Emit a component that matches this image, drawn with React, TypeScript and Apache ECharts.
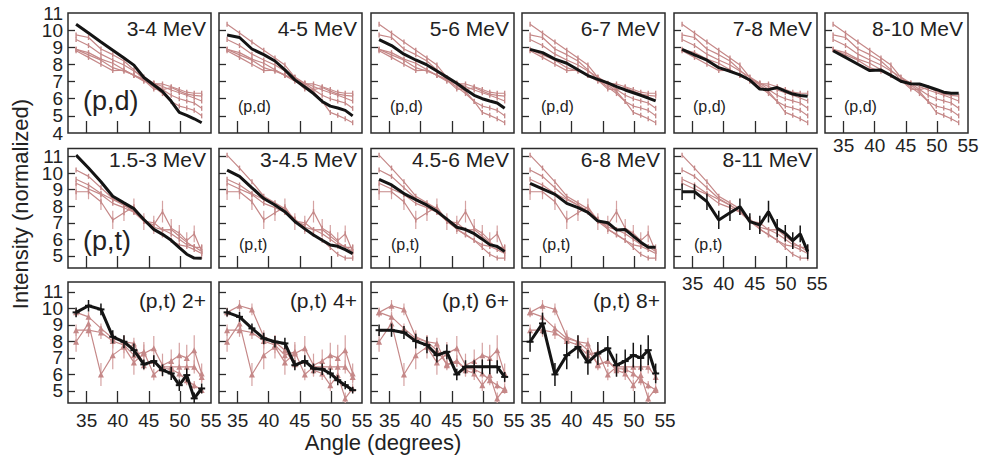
import { useEffect, useRef } from 'react';
import * as echarts from 'echarts';

// Angle (degrees) of each measured point
const angles = [33.3, 35.3, 37.3, 39.2, 41.0, 42.6, 44.2, 45.8, 47.2, 48.6, 49.9, 51.1, 52.3, 53.5];

// Row 1: (p,d)
const row1Titles = ['3-4 MeV', '4-5 MeV', '5-6 MeV', '6-7 MeV', '7-8 MeV', '8-10 MeV'];
const pd34 = [10.34, 9.83, 9.31, 8.83, 8.37, 7.96, 7.24, 6.8, 6.42, 5.85, 5.2, 5.03, 4.83, 4.6];
const pd45 = [9.72, 9.57, 8.9, 8.57, 8.2, 7.68, 7.1, 6.68, 6.3, 5.84, 5.57, 5.46, 5.32, 5.0];
const pd56 = [9.45, 9.1, 8.6, 8.26, 7.97, 7.62, 7.26, 6.9, 6.54, 6.2, 6.0, 5.87, 5.75, 5.44];
const pd67 = [8.88, 8.69, 8.31, 8.07, 7.69, 7.35, 7.13, 6.92, 6.71, 6.51, 6.35, 6.2, 6.04, 5.87];
const pd78 = [8.88, 8.56, 8.25, 7.81, 7.6, 7.39, 7.09, 6.56, 6.53, 6.65, 6.44, 6.27, 6.19, 6.15];
const pd810 = [8.8, 8.41, 8.01, 7.64, 7.67, 7.36, 7.02, 6.87, 6.86, 6.7, 6.54, 6.38, 6.32, 6.32];

// Row 2: (p,t) energy bins
const row2Titles = ['1.5-3 MeV', '3-4.5 MeV', '4.5-6 MeV', '6-8 MeV', '8-11 MeV'];
const pt153 = [11.08, 10.3, 9.47, 8.6, 8.2, 7.85, 7.2, 6.6, 6.3, 5.94, 5.5, 5.1, 4.87, 4.86];
const pt345 = [10.18, 9.8, 9.11, 8.46, 8.07, 7.67, 7.08, 6.63, 6.26, 5.94, 5.66, 5.58, 5.38, 5.14];
const pt456 = [9.62, 9.28, 8.76, 8.4, 8.06, 7.69, 7.22, 6.73, 6.59, 6.34, 6.01, 5.68, 5.57, 5.26];
const pt68 = [9.38, 9.04, 8.71, 8.17, 7.91, 7.63, 7.1, 7.0, 6.57, 6.59, 6.19, 5.83, 5.52, 5.52];
const pt811 = [8.87, 8.87, 8.27, 7.17, 7.6, 7.97, 7.07, 6.87, 7.67, 6.67, 6.37, 5.92, 6.33, 5.26];
const pt811Err = [0.5, 0.45, 0.5, 0.55, 0.5, 0.5, 0.5, 0.55, 0.65, 0.55, 0.5, 0.5, 0.5, 0.45];

// Row 3: (p,t) states
const row3Titles = ['(p,t) 2+', '(p,t) 4+', '(p,t) 6+', '(p,t) 8+'];
const s2 = [9.76, 10.16, 9.94, 8.28, 7.98, 7.47, 6.61, 6.81, 6.26, 6.06, 5.35, 5.96, 4.55, 5.15];
const s2Err = [0.3, 0.35, 0.35, 0.4, 0.4, 0.4, 0.3, 0.35, 0.35, 0.4, 0.35, 0.4, 0.35, 0.3];
const s4 = [9.76, 9.49, 8.79, 8.18, 7.98, 7.88, 6.56, 6.81, 6.36, 6.32, 6.06, 5.65, 5.35, 5.05];
const s4Err = [0.25, 0.3, 0.3, 0.35, 0.35, 0.35, 0.3, 0.35, 0.3, 0.35, 0.3, 0.3, 0.25, 0.2];
const s6 = [8.68, 8.68, 8.54, 8.02, 7.78, 7.17, 7.37, 6.0, 6.46, 6.46, 6.46, 6.46, 6.46, 5.85];
const s6Err = [0.35, 0.4, 0.4, 0.45, 0.5, 0.45, 0.45, 0.35, 0.4, 0.4, 0.45, 0.45, 0.4, 0.3];
const s8 = [7.98, 9.09, 6.0, 7.17, 7.67, 6.73, 7.27, 7.58, 6.56, 6.81, 7.17, 7.0, 7.47, 6.06];
const s8Err = [0.6, 0.65, 0.7, 0.85, 0.7, 0.75, 0.7, 0.75, 0.7, 0.7, 0.75, 0.8, 0.9, 0.6];

// Axis ticks / labels (labels split in two interleaved sets so they all show)
const xTicks = [35, 40, 45, 50];
const xTickLabels = [35, 40, 45, 50, 55];
const yTicksRow1 = [5, 6, 7, 8, 9, 10];
const yLabelsRow1A = [4, 6, 8, 10];
const yLabelsRow1B = [5, 7, 9, 11];
const yTicksRow23 = [5, 6, 7, 8, 9, 10, 11];
const yLabelsRow23A = [5, 7, 9, 11];
const yLabelsRow23B = [6, 8, 10];

const FONT = '"Liberation Sans", Arial, Helvetica, sans-serif';
const PINK = '#c58888';
const PINK_BAR = '#d5a2a2';
const BLACK = '#141414';
const TEXT = '#222';

const colLeft = [68, 219, 371, 522, 674, 825];
const colW = 143;
const rows = [
  { top: 13, h: 120, min: 4, max: 11, ticks: yTicksRow1, labA: yLabelsRow1A, labB: yLabelsRow1B, xMargin: 3 },
  { top: 148.5, h: 119.5, min: 4.27, max: 11.48, ticks: yTicksRow23, labA: yLabelsRow23A, labB: yLabelsRow23B, xMargin: 6 },
  { top: 282, h: 121, min: 4.27, max: 11.6, ticks: yTicksRow23, labA: yLabelsRow23A, labB: yLabelsRow23B, xMargin: 8 },
];

type Line = { v: number[]; e?: number[] };

function buildOption() {
  const row1: Line[] = [pd34, pd45, pd56, pd67, pd78, pd810].map((v) => ({ v }));
  const row2: Line[] = [pt153, pt345, pt456, pt68, pt811].map((v, i) => ({ v, e: i === 4 ? pt811Err : undefined }));
  const row3: Line[] = [
    { v: s2, e: s2Err },
    { v: s4, e: s4Err },
    { v: s6, e: s6Err },
    { v: s8, e: s8Err },
  ];
  const rowLines = [row1, row2, row3];
  const rowTitles = [row1Titles, row2Titles, row3Titles];
  const xLabelPanels: Record<string, boolean> = { '0-5': true, '1-4': true, '2-0': true, '2-1': true, '2-2': true, '2-3': true };

  const grid: any[] = [];
  const xAxis: any[] = [];
  const yAxis: any[] = [];
  const extraY: any[] = [];
  const series: any[] = [];
  const graphic: any[] = [];

  const txt = (text: string, x: number, y: number, size: number, align = 'left', rotation = 0) => ({
    type: 'text',
    x,
    y,
    rotation,
    z: 100,
    style: { text, fontSize: size, fontFamily: FONT, fill: TEXT, align, verticalAlign: 'middle' },
  });

  const yLabelStyle = (values: number[] | undefined, show: boolean) => ({
    show,
    customValues: values,
    showMinLabel: true,
    showMaxLabel: true,
    hideOverlap: false,
    fontSize: 19,
    fontFamily: FONT,
    color: TEXT,
    margin: 5,
  });

  let k = 0;
  rowLines.forEach((lines, r) => {
    const R = rows[r];
    lines.forEach((main, c) => {
      const left = colLeft[c];
      grid.push({
        left,
        top: R.top,
        width: colW,
        height: R.h,
        show: true,
        borderColor: '#2b2b2b',
        borderWidth: 1.5,
        backgroundColor: 'transparent',
      });
      const showX = !!xLabelPanels[`${r}-${c}`];
      xAxis.push({
        type: 'value',
        gridIndex: k,
        min: 32,
        max: 55,
        axisLine: { show: false },
        splitLine: { show: false },
        axisTick: {
          show: true,
          inside: true,
          length: 12,
          customValues: xTicks,
          lineStyle: { color: '#2b2b2b', width: 1.3 },
        },
        axisLabel: {
          show: showX,
          customValues: xTickLabels,
          showMinLabel: true,
          showMaxLabel: true,
          hideOverlap: false,
          fontSize: 19,
          fontFamily: FONT,
          color: TEXT,
          margin: R.xMargin,
        },
      });
      yAxis.push({
        type: 'value',
        gridIndex: k,
        position: 'left',
        min: R.min,
        max: R.max,
        axisLine: { show: false },
        splitLine: { show: false },
        axisTick: {
          show: true,
          inside: true,
          length: 7,
          customValues: R.ticks,
          lineStyle: { color: '#2b2b2b', width: 1.3 },
        },
        axisLabel: yLabelStyle(R.labA, c === 0),
      });
      if (c === 0) {
        extraY.push({
          type: 'value',
          gridIndex: k,
          position: 'left',
          offset: 0,
          min: R.min,
          max: R.max,
          axisLine: { show: false },
          splitLine: { show: false },
          axisTick: { show: false },
          axisLabel: yLabelStyle(R.labB, true),
        });
      }

      const addErr = (l: Line, color: string, width: number, z: number) => {
        if (!l.e) return;
        const e = l.e;
        series.push({
          type: 'custom',
          xAxisIndex: k,
          yAxisIndex: k,
          silent: true,
          z,
          clip: true,
          encode: { x: 0, y: [1, 2] },
          data: angles.map((a, i) => [a, l.v[i] - e[i], l.v[i] + e[i]]),
          renderItem: (_p: any, api: any) => {
            const p1 = api.coord([api.value(0), api.value(1)]);
            const p2 = api.coord([api.value(0), api.value(2)]);
            return {
              type: 'line',
              shape: { x1: p1[0], y1: p1[1], x2: p2[0], y2: p2[1] },
              style: { stroke: color, lineWidth: width },
            };
          },
        });
      };

      lines.forEach((o, j) => {
        if (j === c) return;
        addErr(o, PINK_BAR, 1.2, 2);
        series.push({
          type: 'line',
          xAxisIndex: k,
          yAxisIndex: k,
          silent: true,
          z: 3,
          data: angles.map((a, i) => [a, o.v[i]]),
          lineStyle: { color: PINK, width: 1.2 },
          itemStyle: { color: PINK },
          symbol: r === 2 ? 'triangle' : 'rect',
          symbolSize: r === 2 ? 6 : [1.4, 5],
          showSymbol: true,
        });
      });
      addErr(main, BLACK, 1.5, 5);
      series.push({
        type: 'line',
        xAxisIndex: k,
        yAxisIndex: k,
        silent: true,
        z: 6,
        data: angles.map((a, i) => [a, main.v[i]]),
        lineStyle: { color: BLACK, width: 3 },
        itemStyle: { color: BLACK },
        symbol: r === 2 ? 'rect' : 'none',
        symbolSize: [7, 2],
        showSymbol: r === 2,
      });

      // titles
      const titleY = r === 0 ? 28 : r === 1 ? 159 : 300;
      graphic.push(txt(rowTitles[r][c], left + colW - 5, titleY, 21, 'right'));
      // reaction labels
      if (r === 0) {
        if (c === 0) graphic.push(txt('(p,d)', 83, 101, 27));
        else graphic.push(txt('(p,d)', left + 19, 106.5, 16));
      } else if (r === 1) {
        if (c === 0) graphic.push(txt('(p,t)', 83, 241, 27));
        else graphic.push(txt('(p,t)', left + 20, 244, 16));
      }
      k++;
    });
  });

  graphic.push(txt('Angle (degrees)', 383, 442, 22, 'center'));
  graphic.push(txt('Intensity (normalized)', 20, 204, 22, 'center', Math.PI / 2));

  return {
    animation: false,
    backgroundColor: '#ffffff',
    grid,
    xAxis,
    yAxis: yAxis.concat(extraY),
    series,
    graphic,
  };
}

export default function App() {
  const ref = useRef<HTMLDivElement>(null);
  useEffect(() => {
    if (!ref.current) return;
    const chart = echarts.init(ref.current, null, { renderer: 'svg' });
    chart.setOption(buildOption() as any);
    return () => chart.dispose();
  }, []);
  return (
    <div
      ref={ref}
      style={{ position: 'fixed', left: 0, top: 0, width: 982, height: 457, background: '#fff' }}
    />
  );
}
